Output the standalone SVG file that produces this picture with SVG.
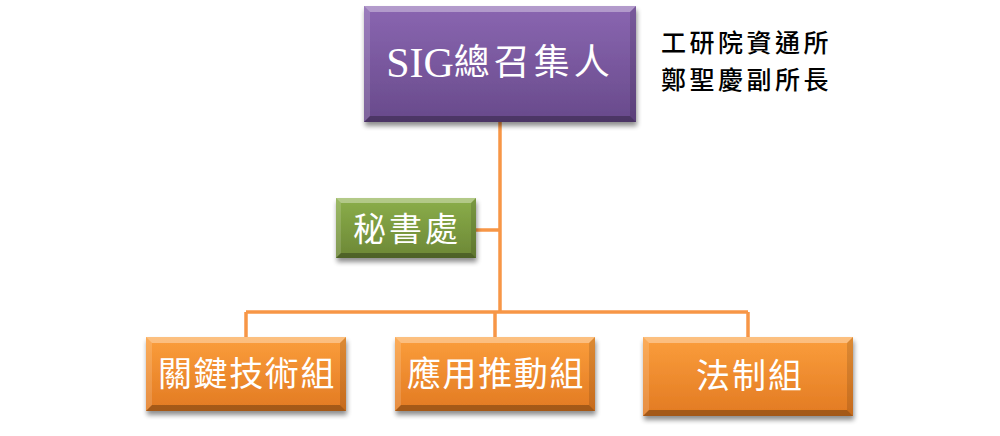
<svg xmlns="http://www.w3.org/2000/svg" width="1000" height="436" viewBox="0 0 1000 436">
  <defs>
    <linearGradient id="gPurple" x1="0" y1="0" x2="0" y2="1">
      <stop offset="0" stop-color="#8A66B1"/>
      <stop offset="1" stop-color="#684A8B"/>
    </linearGradient>
    <linearGradient id="gGreen" x1="0" y1="0" x2="0" y2="1">
      <stop offset="0" stop-color="#8BAE4A"/>
      <stop offset="1" stop-color="#6C8736"/>
    </linearGradient>
    <linearGradient id="gOrange" x1="0" y1="0" x2="0" y2="1">
      <stop offset="0" stop-color="#FB9E3C"/>
      <stop offset="1" stop-color="#E27A22"/>
    </linearGradient>
    <filter id="shadow" x="-10%" y="-10%" width="125%" height="135%">
      <feGaussianBlur in="SourceAlpha" stdDeviation="2.5"/>
      <feOffset dx="1" dy="4" result="b"/>
      <feComponentTransfer><feFuncA type="linear" slope="0.45"/></feComponentTransfer>
      <feMerge><feMergeNode/><feMergeNode in="SourceGraphic"/></feMerge>
    </filter>
  </defs>
  <style>
    .conn { stroke: #F79646; stroke-width: 3.5; fill: none; }
    .bt { fill: rgba(255,255,255,0.35); }
    .bl { fill: rgba(255,255,255,0.15); }
    .br { fill: rgba(0,0,0,0.12); }
    .bb { fill: rgba(0,0,0,0.28); }
    .lbl { fill: #FFFFFF; font-family: "Liberation Serif", "Noto Sans CJK TC", serif; text-anchor: middle; dominant-baseline: central; }
    .note { fill: #000000; font-family: "Noto Sans CJK TC", "Noto Sans", sans-serif; font-size: 25px; font-weight: 500; letter-spacing: 3.5px; dominant-baseline: central; }
  </style>
  <rect width="1000" height="436" fill="#FFFFFF"/>

  <g id="connectors">
    <line class="conn" x1="500" y1="122" x2="500" y2="312"/>
    <line class="conn" x1="476" y1="230" x2="500" y2="230"/>
    <line class="conn" x1="246" y1="312" x2="748" y2="312"/>
    <line class="conn" x1="246" y1="312" x2="246" y2="337"/>
    <line class="conn" x1="495" y1="312" x2="495" y2="337"/>
    <line class="conn" x1="748" y1="312" x2="748" y2="337"/>
  </g>

  <g id="node-top">
    <g filter="url(#shadow)">
      <rect x="364" y="6" width="272" height="116" fill="url(#gPurple)"/>
    </g>
    <polygon class="bt" points="364,6 636,6 630,12 370,12"/>
    <polygon class="bl" points="364,6 370,12 370,116 364,122"/>
    <polygon class="br" points="636,6 636,122 630,116 630,12"/>
    <polygon class="bb" points="364,122 370,116 630,116 636,122"/>
    <text class="lbl" x="500" y="63"><tspan font-size="42">SIG</tspan><tspan font-size="36" letter-spacing="4">總召集人</tspan></text>
  </g>

  <g id="note">
    <text class="note" x="661" y="41">工研院資通所</text>
    <text class="note" x="661" y="78">鄭聖慶副所長</text>
  </g>

  <g id="node-secretary">
    <g filter="url(#shadow)">
      <rect x="336" y="198" width="140" height="60" fill="url(#gGreen)"/>
    </g>
    <polygon class="bt" points="336,198 476,198 471,203 341,203"/>
    <polygon class="bl" points="336,198 341,203 341,253 336,258"/>
    <polygon class="br" points="476,198 476,258 471,253 471,203"/>
    <polygon class="bb" points="336,258 341,253 471,253 476,258"/>
    <text class="lbl" x="407" y="230" font-size="33" letter-spacing="3">秘書處</text>
  </g>

  <g id="node-key-tech">
    <g filter="url(#shadow)">
      <rect x="146" y="337" width="200" height="74" fill="url(#gOrange)"/>
    </g>
    <polygon class="bt" points="146,337 346,337 340,343 152,343"/>
    <polygon class="bl" points="146,337 152,343 152,405 146,411"/>
    <polygon class="br" points="346,337 346,411 340,405 340,343"/>
    <polygon class="bb" points="146,411 152,405 340,405 346,411"/>
    <text class="lbl" x="247" y="374" font-size="34" letter-spacing="1.6">關鍵技術組</text>
  </g>

  <g id="node-app">
    <g filter="url(#shadow)">
      <rect x="395" y="337" width="200" height="74" fill="url(#gOrange)"/>
    </g>
    <polygon class="bt" points="395,337 595,337 589,343 401,343"/>
    <polygon class="bl" points="395,337 401,343 401,405 395,411"/>
    <polygon class="br" points="595,337 595,411 589,405 589,343"/>
    <polygon class="bb" points="395,411 401,405 589,405 595,411"/>
    <text class="lbl" x="496" y="374" font-size="34" letter-spacing="1.6">應用推動組</text>
  </g>

  <g id="node-law">
    <g filter="url(#shadow)">
      <rect x="643" y="337" width="210" height="79" fill="url(#gOrange)"/>
    </g>
    <polygon class="bt" points="643,337 853,337 847,343 649,343"/>
    <polygon class="bl" points="643,337 649,343 649,410 643,416"/>
    <polygon class="br" points="853,337 853,416 847,410 847,343"/>
    <polygon class="bb" points="643,416 649,410 847,410 853,416"/>
    <text class="lbl" x="750" y="376" font-size="34" letter-spacing="2">法制組</text>
  </g>
</svg>
